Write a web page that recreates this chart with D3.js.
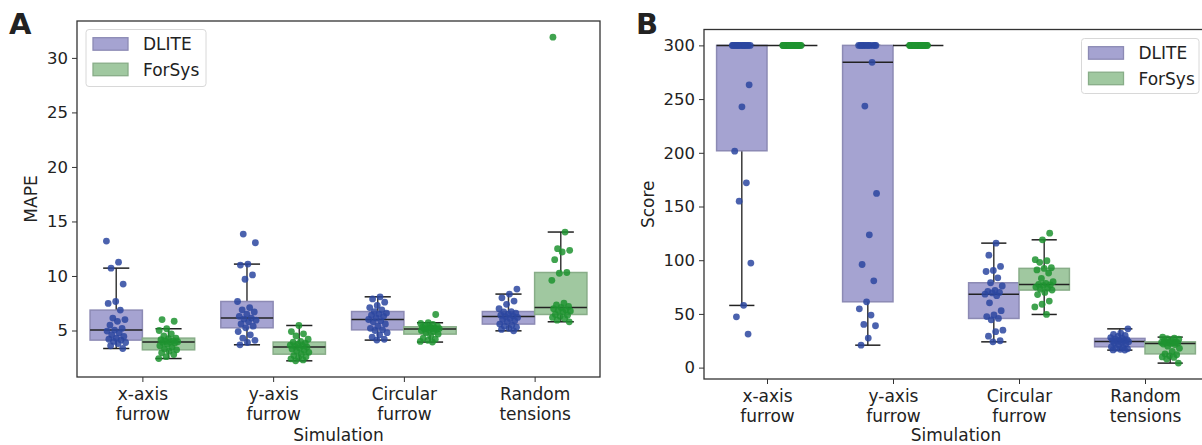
<!DOCTYPE html>
<html lang="en">
<head>
<meta charset="utf-8" />
<title>DLITE vs ForSys</title>
<script src="https://d3js.org/d3.v7.min.js"></script>
<style>
  body{margin:0;background:#fff;font-family:"DejaVu Sans",sans-serif;}
  svg{display:block;}
  .tick text{font-family:"DejaVu Sans",sans-serif;fill:#222;}
  .axis path,.axis line{stroke:#333;}
</style>
</head>
<body>
<svg id="chart" width="1202" height="445"></svg>
<script>
// -------- DATA --------
const CATEGORIES=['x-axis\nfurrow','y-axis\nfurrow','Circular\nfurrow','Random\ntensions'];
const METHODS=['DLITE','ForSys'];

// box stats: [whiskerLow, q1, median, q3, whiskerHigh]
const mapeBoxDLITE=[[3.35,4.12,5.04,6.87,10.72],[3.69,5.25,6.14,7.66,11.09],[4.12,5.06,6.01,6.74,8.09],[4.97,5.59,6.28,6.74,8.34]];
const mapeBoxForSys=[[2.43,3.23,3.94,4.30,5.16],[2.22,2.83,3.48,3.94,5.46],[3.94,4.67,5.13,5.34,5.71],[5.8,6.47,7.11,10.32,14.03]];
const scoreBoxDLITE=[[57.9,201.9,300,300,300],[20.9,61.3,284.2,300,300],[24,45.8,68.4,79,115.9],[16.3,19.4,24.4,27.2,36.1]];
const scoreBoxForSys=[[300,300,300,300,300],[300,300,300,300,300],[49.5,72.2,77.5,92.4,119],[4.2,12.8,22.5,24.0,28.4]];

// individual runs (25 per group)
const mapeDLITE=[
  [13.2,11.27,10.72,9.26,7.66,7.48,6.87,6.14,6.0,5.84,5.5,5.2,5.04,4.95,4.8,4.6,4.45,4.3,4.2,4.12,4.0,3.9,3.8,3.6,3.35],
  [13.84,13.05,11.09,11.0,10.1,9.7,7.66,7.1,6.9,6.7,6.5,6.3,6.14,6.05,5.95,5.8,5.6,5.4,5.25,4.9,4.6,4.3,4.1,3.9,3.69],
  [8.09,7.9,7.6,7.3,7.1,6.9,6.74,6.6,6.5,6.4,6.3,6.15,6.01,5.9,5.8,5.6,5.4,5.2,5.06,5.0,4.8,4.6,4.4,4.2,4.12],
  [8.8,8.34,8.0,7.7,7.4,7.0,6.74,6.7,6.6,6.5,6.4,6.35,6.28,6.2,6.1,6.0,5.9,5.8,5.59,5.5,5.4,5.3,5.2,5.1,4.97]
];
const mapeForSys=[
  [6.0,5.85,5.16,5.0,4.7,4.5,4.3,4.25,4.15,4.05,4.0,3.97,3.94,3.9,3.85,3.75,3.6,3.45,3.3,3.23,3.1,2.95,2.8,2.6,2.43],
  [5.46,4.9,4.7,4.5,4.2,4.0,3.94,3.85,3.75,3.65,3.6,3.55,3.48,3.4,3.3,3.2,3.1,3.0,2.83,2.7,2.6,2.5,2.4,2.3,2.22],
  [6.47,5.71,5.65,5.55,5.45,5.4,5.34,5.3,5.25,5.2,5.18,5.15,5.13,5.1,5.05,5.0,4.9,4.8,4.67,4.5,4.3,4.2,4.1,4.0,3.94],
  [31.9,14.03,12.5,12.35,12.2,11.5,10.32,10.25,9.6,7.5,7.35,7.2,7.11,7.0,6.9,6.85,6.8,6.7,6.47,6.4,6.3,6.2,6.1,5.95,5.8]
];
const scoreDLITE=[
  [300,300,300,300,300,300,300,300,300,300,300,300,300,300,300,300,263.3,242.8,201.5,172,155,97.3,58,47.3,31.2],
  [300,300,300,300,300,300,300,300,300,300,300,300,284.2,243.5,162.2,123.6,96,80.8,61.3,54.7,48.9,40.2,39,27.5,20.9],
  [115.9,104.7,94.2,90.5,89.5,83.6,79,76,72,71,70,69.5,68.4,67,60.3,53,49,47.5,45.8,44.5,34.9,33.5,29.3,25,24],
  [36.1,32,31,30,29,28,27.2,26.5,26,25.5,25,24.8,24.4,24,23.5,23,22,21,19.4,18.5,18,17.5,17,16.5,16.3]
];
const scoreForSys=[
  [300,300,300,300,300,300,300,300,300,300,300,300,300,300,300,300,300,300,300,300,300,300,300,300,300],
  [300,300,300,300,300,300,300,300,300,300,300,300,300,300,300,300,300,300,300,300,300,300,300,300,300],
  [125.2,119,100.5,99.5,98,93,92.4,91,88,83,80,78.5,77.5,77,76.5,75,74,73,72.2,70,68,62,59,56.5,49.5],
  [28.4,27.5,27,26.5,25.5,25,24.0,23.8,23.5,23.2,23,22.8,22.5,22,21.5,20,18,15,12.8,12,11,10,9.5,8,4.2]
];
const mapeTicks=[5,10,15,20,25,30];
const scoreTicks=[0,50,100,150,200,250,300];

// -------- STYLE --------
const boxFill={DLITE:'#a5a3d1',ForSys:'#a0c8a0'};
const boxEdge={DLITE:'#8c8ab4',ForSys:'#88ad88'};
const dotColor={DLITE:'#2c46a0',ForSys:'#1e9330'};

const svg=d3.select('#chart');

function panel(opt){
  const {left,right,top,bottom,boxes,points,ticks,ylabel,letter,legend}=opt;
  const g=svg.append('g');
  const x=d3.scaleLinear().domain([-0.5,3.5]).range([left,right]);
  const all=points.flat(2);
  const [lo,hi]=d3.extent(all), pad=(hi-lo)*0.05;
  const y=d3.scaleLinear().domain([lo-pad,hi+pad]).range([bottom,top]);
  const bw=x(0.4)-x(0);

  // clip for right panel running off page
  g.append('rect').attr('x',left).attr('y',top).attr('width',right-left).attr('height',bottom-top)
    .attr('fill','none').attr('stroke','#333').attr('stroke-width',1.3);

  METHODS.forEach((m,mi)=>{
    const off=mi===0?-0.2:0.2;
    boxes[mi].forEach((b,ci)=>{
      const cx=x(ci+off);
      const [wl,q1,md,q3,wh]=b;
      // whiskers
      g.append('line').attr('x1',cx).attr('x2',cx).attr('y1',y(q3)).attr('y2',y(wh)).attr('stroke','#3a3a3a').attr('stroke-width',1.5);
      g.append('line').attr('x1',cx).attr('x2',cx).attr('y1',y(q1)).attr('y2',y(wl)).attr('stroke','#3a3a3a').attr('stroke-width',1.5);
      g.append('line').attr('x1',cx-bw/4).attr('x2',cx+bw/4).attr('y1',y(wh)).attr('y2',y(wh)).attr('stroke','#222').attr('stroke-width',1.5);
      g.append('line').attr('x1',cx-bw/4).attr('x2',cx+bw/4).attr('y1',y(wl)).attr('y2',y(wl)).attr('stroke','#222').attr('stroke-width',1.5);
      g.append('rect').attr('x',cx-bw/2).attr('width',bw).attr('y',y(q3)).attr('height',Math.max(0,y(q1)-y(q3)))
        .attr('fill',boxFill[m]).attr('stroke',boxEdge[m]).attr('stroke-width',1.5);
      g.append('line').attr('x1',cx-bw/2).attr('x2',cx+bw/2).attr('y1',y(md)).attr('y2',y(md)).attr('stroke','#222').attr('stroke-width',1.5);
    });
  });
  METHODS.forEach((m,mi)=>{
    const off=mi===0?-0.2:0.2;
    points[mi].forEach((vals,ci)=>{
      vals.forEach((v,i)=>{
        const j=(((i*0.6180339+ci*0.31+mi*0.17)%1)-0.5)*0.15;
        g.append('circle').attr('cx',x(ci+off+j)).attr('cy',y(v)).attr('r',3.4)
          .attr('fill',dotColor[m]).attr('fill-opacity',0.85);
      });
    });
  });

  // axes
  const ya=g.append('g').attr('class','axis').attr('transform',`translate(${left},0)`)
    .call(d3.axisLeft(y).tickValues(ticks).tickSize(5).tickPadding(4));
  ya.select('.domain').remove();
  ya.selectAll('text').style('font-size','16.5px');
  const xa=g.append('g').attr('class','axis').attr('transform',`translate(0,${bottom})`)
    .call(d3.axisBottom(x).tickValues([0,1,2,3]).tickSize(5).tickFormat(''));
  xa.select('.domain').remove();
  xa.selectAll('.tick').each(function(d){
    const t=d3.select(this).append('text').attr('fill','#222').attr('text-anchor','middle').style('font-size','17px');
    CATEGORIES[d].split('\n').forEach((s,k)=>t.append('tspan').attr('x',0).attr('y',23+k*19.5).text(s));
  });
  g.append('text').attr('x',(left+Math.min(right,1202+ (right-1202)))/2).attr('x',(left+right)/2).attr('y',441)
    .attr('text-anchor','middle').style('font-size','17px').attr('fill','#222').text('Simulation');
  g.append('text').attr('transform',`translate(${opt.ylabelX},${(top+bottom)/2}) rotate(-90)`)
    .attr('text-anchor','middle').style('font-size','17px').attr('fill','#222').text(ylabel);
  g.append('text').attr('x',opt.letterX).attr('y',34).style('font-size','29px').style('font-weight','bold').attr('fill','#222').text(letter);

  // legend
  const L=legend;
  g.append('rect').attr('x',L.x).attr('y',L.y).attr('width',L.w).attr('height',L.h).attr('rx',3)
    .attr('fill','#fff').attr('fill-opacity',0.8).attr('stroke','#d8d8d8');
  METHODS.forEach((m,i)=>{
    const cy=L.y+14.5+i*25.5;
    g.append('rect').attr('x',L.x+7).attr('y',cy-6.3).attr('width',35).attr('height',12.5)
      .attr('fill',boxFill[m]).attr('stroke',boxEdge[m]).attr('stroke-width',1.3);
    g.append('text').attr('x',L.x+57).attr('y',cy+6).style('font-size','17px').attr('fill','#222').text(m);
  });
}

panel({left:77,right:600,top:21,bottom:377,boxes:[mapeBoxDLITE,mapeBoxForSys],points:[mapeDLITE,mapeForSys],
  ticks:mapeTicks,ylabel:'MAPE',ylabelX:37,letter:'A',letterX:9,legend:{x:86,y:29.5,w:120,h:57}});
panel({left:704,right:1208,top:29.5,bottom:379,boxes:[scoreBoxDLITE,scoreBoxForSys],points:[scoreDLITE,scoreForSys],
  ticks:scoreTicks,ylabel:'Score',ylabelX:654,letter:'B',letterX:636,legend:{x:1081.5,y:38.5,w:117.5,h:55}});
</script>
</body>
</html>
